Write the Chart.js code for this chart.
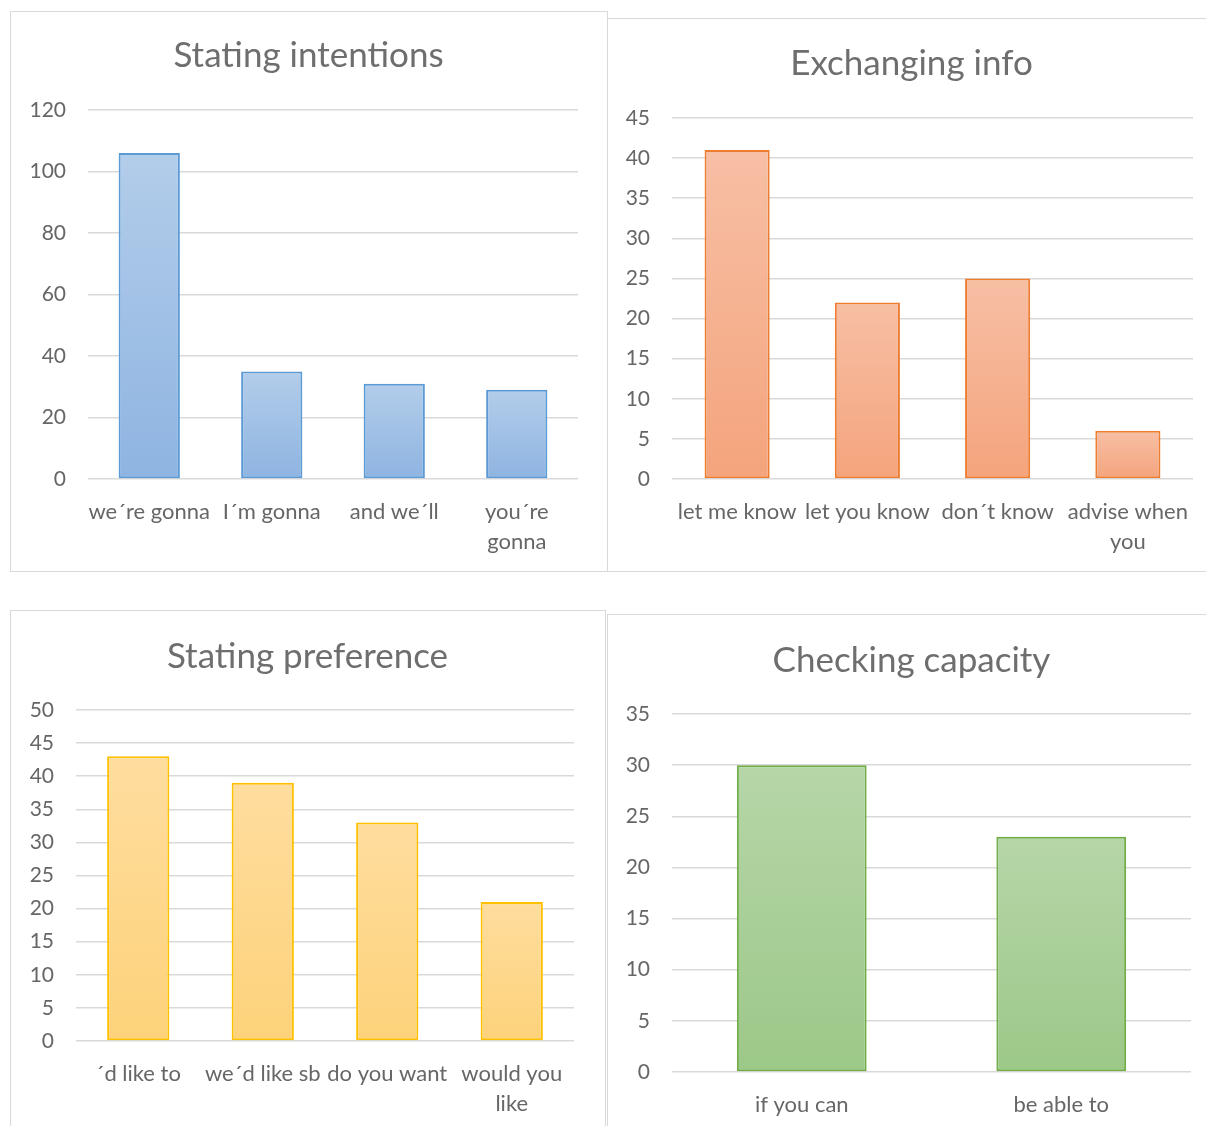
<!DOCTYPE html>
<html>
<head>
<meta charset="utf-8">
<script src="https://cdn.jsdelivr.net/npm/chart.js@4.4.1/dist/chart.umd.min.js"></script>
<style>
  html, body { margin: 0; padding: 0; background: #fff; overflow: hidden; }
  body { width: 1206px; height: 1126px; position: relative; }
  .panel { position: absolute; box-sizing: border-box; border: 1.5px solid #d9d9d9; background: #fff; }
  .panel canvas { position: absolute; left: 0; top: 0; }
</style>
</head>
<body>
<div class="panel" id="p1" style="left:10px; top:11px; width:598px; height:561px;"><canvas id="c1"></canvas></div>
<div class="panel" id="p2" style="left:607px; top:18px; width:610px; height:554px;"><canvas id="c2"></canvas></div>
<div class="panel" id="p3" style="left:10px; top:610px; width:596px; height:540px;"><canvas id="c3"></canvas></div>
<div class="panel" id="p4" style="left:607px; top:614px; width:610px; height:540px;"><canvas id="c4"></canvas></div>
<script>
// Stating intentions
const intentLabels = ['we´re gonna', 'I´m gonna', 'and we´ll', ['you´re', 'gonna']];
const intentValues = [106, 35, 31, 29];
const intentTicks = { max: 120, step: 20 };

// Exchanging info
const infoLabels = ['let me know', 'let you know', 'don´t know', ['advise when', 'you']];
const infoValues = [41, 22, 25, 6];
const infoTicks = { max: 45, step: 5 };

// Stating preference
const prefLabels = ['´d like to', 'we´d like sb', 'do you want', ['would you', 'like']];
const prefValues = [43, 39, 33, 21];
const prefTicks = { max: 50, step: 5 };

// Checking capacity
const capLabels = ['if you can', 'be able to'];
const capValues = [30, 23];
const capTicks = { max: 35, step: 5 };

const textColor = '#666666';
const titleColor = '#6e6e6e';
const gridColor = '#d9d9d9';
const fontFamily = 'Lato, "Open Sans", sans-serif';

// The built-in title centres over the chart box, which is offset by the
// right padding; Excel centres it on the whole panel, so draw it here.
const panelTitle = {
    id: 'panelTitle',
    afterDraw: function(chart, args, opts) {
        const ctx = chart.ctx;
        ctx.save();
        ctx.font = '35px ' + fontFamily;
        ctx.fillStyle = titleColor;
        ctx.textAlign = 'center';
        ctx.textBaseline = 'middle';
        ctx.fillText(opts.text, chart.width / 2, opts.y);
        ctx.restore();
    }
};

function makeChart(canvasId, title, labels, values, ticks, colors, box) {
    const canvas = document.getElementById(canvasId);
    canvas.width = box.w;
    canvas.height = box.h;
    canvas.style.width = box.w + 'px';
    canvas.style.height = box.h + 'px';

    return new Chart(canvas.getContext('2d'), {
        type: 'bar',
        plugins: [panelTitle],
        data: {
            labels: labels,
            datasets: [{
                data: values,
                borderColor: colors.border,
                borderWidth: 2,
                borderSkipped: false,
                categoryPercentage: 0.5,
                barPercentage: 1.0,
                // light at the top of each bar, a bit deeper at its base
                backgroundColor: function(ctx) {
                    const chart = ctx.chart;
                    if (ctx.type !== 'data' || !chart.chartArea) return colors.bottom;
                    const y = chart.scales.y;
                    const top = y.getPixelForValue(ctx.raw);
                    const base = y.getPixelForValue(0);
                    if (!isFinite(top) || !isFinite(base) || top === base) return colors.bottom;
                    const g = chart.ctx.createLinearGradient(0, top, 0, base);
                    g.addColorStop(0, colors.top);
                    g.addColorStop(1, colors.bottom);
                    return g;
                }
            }]
        },
        options: {
            responsive: false,
            animation: false,
            layout: { padding: { left: 0, right: box.right, top: box.top, bottom: 0 } },
            plugins: {
                legend: { display: false },
                tooltip: { enabled: false },
                title: { display: false },
                panelTitle: { text: title, y: box.titleY }
            },
            scales: {
                x: {
                    grid: { display: false },
                    border: { display: false },
                    ticks: {
                        color: textColor,
                        font: { family: fontFamily, size: 22, lineHeight: 1.36 },
                        padding: 10,
                        autoSkip: false,
                        maxRotation: 0
                    },
                    afterFit: function(scale) { scale.height = box.xh; }
                },
                y: {
                    min: 0,
                    max: ticks.max,
                    grid: { color: gridColor, lineWidth: 1.5, drawTicks: false },
                    border: { display: false },
                    ticks: {
                        stepSize: ticks.step,
                        color: textColor,
                        font: { family: fontFamily, size: 21 },
                        padding: 22
                    },
                    afterFit: function(scale) { scale.width = box.yw; }
                }
            }
        }
    });
}

document.fonts.ready.then(function() {
    makeChart('c1', 'Stating intentions', intentLabels, intentValues, intentTicks,
        { border: '#5b9bd5', top: '#b3cdea', bottom: '#8eb4e1' },
        { w: 595, h: 558, yw: 77, right: 28, top: 98, titleY: 44, xh: 91 });

    makeChart('c2', 'Exchanging info', infoLabels, infoValues, infoTicks,
        { border: '#ed7d31', top: '#f7bfa5', bottom: '#f4a47c' },
        { w: 607, h: 551, yw: 64, right: 22, top: 99, titleY: 45, xh: 91 });

    makeChart('c3', 'Stating preference', prefLabels, prefValues, prefTicks,
        { border: '#ffc000', top: '#fedd9e', bottom: '#fdd27a' },
        { w: 593, h: 537, yw: 65, right: 30, top: 99, titleY: 46, xh: 107 });

    makeChart('c4', 'Checking capacity', capLabels, capValues, capTicks,
        { border: '#70ad47', top: '#b6d6a8', bottom: '#9cc888' },
        { w: 607, h: 537, yw: 64, right: 24, top: 99, titleY: 46, xh: 80 });
});
</script>
</body>
</html>
